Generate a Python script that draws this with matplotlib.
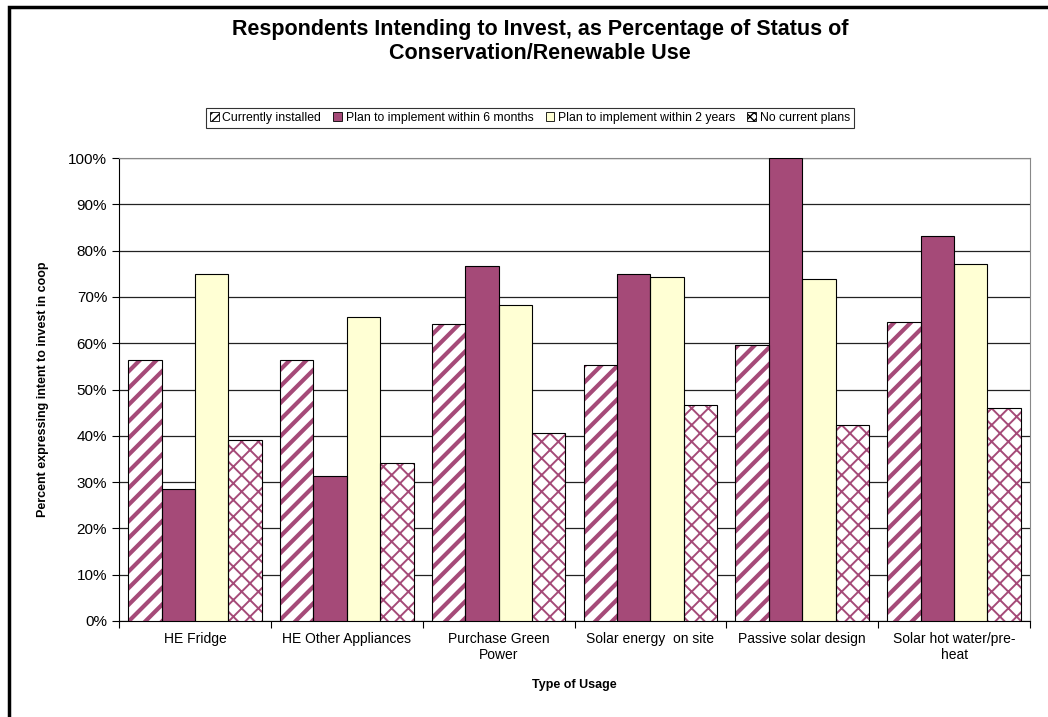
import numpy as np
import matplotlib
matplotlib.use("Agg")
import matplotlib.pyplot as plt
from matplotlib.patches import Rectangle, Patch
from matplotlib.ticker import PercentFormatter

plt.rcParams['font.family'] = ['Liberation Sans', 'DejaVu Sans']

categories = ["HE Fridge", "HE Other Appliances", "Purchase Green\nPower",
              "Solar energy  on site", "Passive solar design",
              "Solar hot water/pre-\nheat"]
series = ["Currently installed", "Plan to implement within 6 months",
          "Plan to implement within 2 years", "No current plans"]
installed = [56.4, 56.4, 64.2, 55.3, 59.6, 64.6]
plan_6mo = [28.6, 31.4, 76.7, 75.0, 100.0, 83.2]
plan_2yr = [75.0, 65.7, 68.2, 74.3, 73.9, 77.1]
no_plans = [39.2, 34.2, 40.6, 46.7, 42.3, 46.0]

plum = "#A54A78"
cream = "#FFFFD4"

fig = plt.figure(figsize=(10.48, 7.17), dpi=100)
# outer chart frame
fig.patches.append(Rectangle((9 / 1048, -0.05), 1.2, 1.05 - 7 / 717,
                             transform=fig.transFigure, fill=False,
                             edgecolor="black", linewidth=2.5))
ax = fig.add_axes([119 / 1048, 96 / 717, 911 / 1048, 463 / 717])

x = np.arange(len(categories))
w = 0.22
offsets = (np.arange(4) - 1.5) * w

styles = [
    dict(face="white", hatch="//", hlw=3.0, hcol=plum),
    dict(face=plum, hatch=None, hlw=1.0, hcol=plum),
    dict(face=cream, hatch=None, hlw=1.0, hcol=plum),
    dict(face="white", hatch="xx", hlw=1.4, hcol=plum),
]
data = [installed, plan_6mo, plan_2yr, no_plans]

handles = []
for vals, off, st, name in zip(data, offsets, styles, series):
    with plt.rc_context({'hatch.linewidth': st['hlw']}):
        bars = ax.bar(x + 0.5 + off, vals, w, color=st['face'],
                      hatch=st['hatch'], edgecolor=st['hcol'], linewidth=0,
                      zorder=3)
        for b in bars:
            if hasattr(b, "set_hatch_linewidth"):
                b.set_hatch_linewidth(st['hlw'])
    ax.bar(x + 0.5 + off, vals, w, facecolor="none", edgecolor="black",
           linewidth=0.8, zorder=4)
    with plt.rc_context({'hatch.linewidth': 1.5}):
        h = Patch(facecolor=st['face'], edgecolor="black", linewidth=0.6,
                  hatch=None if st['hatch'] is None else st['hatch'] * 2,
                  label=name)
    handles.append(h)

ax.set_xlim(0, len(categories))
ax.set_ylim(0, 100)
ax.set_yticks(np.arange(0, 101, 10))
ax.yaxis.set_major_formatter(PercentFormatter(decimals=0))
ax.set_xticks(np.arange(len(categories) + 1))
ax.set_xticklabels([])
ax.set_xticks(x + 0.5, minor=True)
ax.set_xticklabels(categories, minor=True, fontsize=10)
ax.tick_params(axis="x", which="minor", length=0, pad=8)
ax.tick_params(axis="x", which="major", length=5, direction="out", width=0.8)
ax.tick_params(axis="y", length=5, direction="out", width=0.8, labelsize=11)
ax.yaxis.grid(True, color="#222222", linewidth=0.9, zorder=0)
ax.set_axisbelow(True)
for side in ["top", "right"]:
    ax.spines[side].set_color("#888888")
for side in ["left", "bottom"]:
    ax.spines[side].set_color("black")
    ax.spines[side].set_linewidth(0.8)

ax.set_ylabel("Percent expressing intent to invest in coop", fontsize=9,
              fontweight="bold", labelpad=14)
ax.set_xlabel("Type of Usage", fontsize=9, fontweight="bold", labelpad=12)

fig.suptitle("Respondents Intending to Invest, as Percentage of Status of\n"
             "Conservation/Renewable Use", fontsize=15.5, fontweight="bold",
             x=540 / 1048, y=1 - 19 / 717, va="top", linespacing=1.2)

leg = fig.legend(handles=handles, loc="center", ncol=4,
                 bbox_to_anchor=(530 / 1048, 1 - 118 / 717), fontsize=8.8,
                 frameon=True, fancybox=False, edgecolor="black",
                 handlelength=0.7, handleheight=0.7, handletextpad=0.3,
                 columnspacing=1.0, borderpad=0.3, borderaxespad=0)
leg.get_frame().set_linewidth(0.8)

fig.savefig("out.png", dpi=100)
